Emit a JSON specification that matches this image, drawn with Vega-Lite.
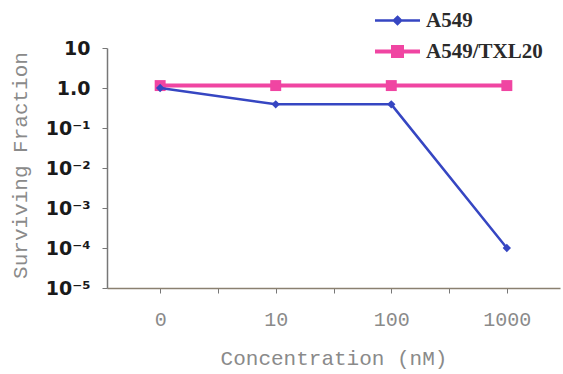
{
  "$schema": "https://vega.github.io/schema/vega-lite/v6.json",
  "width": 453,
  "height": 240,
  "autosize": "none",
  "padding": {"left": 107, "top": 48, "right": 3, "bottom": 86},
  "background": "white",
  "config": {"view": {"stroke": null}},
  "data": {
    "values": [
      {"line": "A549", "conc": "0", "fraction": 1.0},
      {"line": "A549", "conc": "10", "fraction": 0.39},
      {"line": "A549", "conc": "100", "fraction": 0.39},
      {"line": "A549", "conc": "1000", "fraction": 0.0001},
      {"line": "A549/TXL20", "conc": "0", "fraction": 1.15},
      {"line": "A549/TXL20", "conc": "10", "fraction": 1.15},
      {"line": "A549/TXL20", "conc": "100", "fraction": 1.15},
      {"line": "A549/TXL20", "conc": "1000", "fraction": 1.15}
    ]
  },
  "encoding": {
    "x": {
      "field": "conc",
      "type": "ordinal",
      "scale": {"type": "point", "domain": ["0", " ", "10", "  ", "100", "   ", "1000"], "padding": 0.92},
      "axis": {
        "title": "Concentration (nM)",
        "titleFont": "Liberation Mono",
        "titleFontWeight": "normal",
        "titleFontSize": 21,
        "titleColor": "#8a8a8a",
        "titleY": 70,
        "titleBaseline": "middle",
        "labelFont": "Liberation Mono",
        "labelFontSize": 20,
        "labelColor": "#8a8a8a",
        "labelAngle": 0,
        "labelPadding": 16,
        "labelExpr": "trim(datum.label)",
        "tickSize": 5,
        "tickColor": "#777777",
        "domainColor": "#8a8070",
        "domainWidth": 1.5,
        "grid": false
      }
    },
    "y": {
      "field": "fraction",
      "type": "quantitative",
      "scale": {"type": "log", "domain": [0.00001, 10], "nice": false},
      "axis": {
        "title": "Surviving Fraction",
        "titleFont": "Liberation Mono",
        "titleFontWeight": "normal",
        "titleFontSize": 21,
        "titleColor": "#8a8a8a",
        "titleX": -87,
        "titleY": 117,
        "titleAlign": "center",
        "titleBaseline": "middle",
        "titleAngle": -90,
        "values": [0.00001, 0.0001, 0.001, 0.01, 0.1, 1, 10],
        "labelExpr": "datum.value > 5 ? '10' : datum.value > 0.5 ? '1.0' : '10' + '⁻' + ['', '¹', '²', '³', '⁴', '⁵'][round(-log(datum.value) / LN10)]",
        "labelFont": "DejaVu Sans",
        "labelFontWeight": "bold",
        "labelFontSize": 19,
        "labelColor": "#1a1a1a",
        "labelPadding": 12,
        "tickSize": 5,
        "tickColor": "#777777",
        "domainColor": "#777777",
        "domainWidth": 1.5,
        "grid": false
      }
    },
    "color": {
      "field": "line",
      "type": "nominal",
      "scale": {"domain": ["A549", "A549/TXL20"], "range": ["#3646c2", "#f045a2"]},
      "legend": {
        "orient": "none",
        "legendX": 280,
        "legendY": -38,
        "title": null,
        "labelFont": "Liberation Serif",
        "labelFontWeight": "bold",
        "labelFontSize": 21,
        "labelColor": "#2a2a2a",
        "labelOffset": 18,
        "symbolType": "M-1,0H1",
        "symbolSize": 2025,
        "symbolStrokeWidth": 3,
        "rowPadding": 8,
        "encode": {
          "symbols": {
            "update": {
              "shape": {"signal": "datum.value == 'A549' ? 'M-1,0H1M0,-0.16L0.16,0L0,0.16L-0.16,0Z' : 'M-1,0H1M-0.2,-0.2H0.2V0.2H-0.2Z'"},
              "fill": {"scale": "color", "field": "value"},
              "stroke": {"scale": "color", "field": "value"},
              "strokeWidth": {"signal": "datum.value == 'A549' ? 2.5 : 4"}
            }
          }
        }
      }
    }
  },
  "layer": [
    {
      "transform": [{"filter": "datum.line == 'A549/TXL20'"}],
      "mark": {"type": "line", "strokeWidth": 4}
    },
    {
      "transform": [{"filter": "datum.line == 'A549/TXL20'"}],
      "mark": {"type": "point", "shape": "square", "filled": true, "opacity": 1, "size": 120}
    },
    {
      "transform": [{"filter": "datum.line == 'A549'"}],
      "mark": {"type": "line", "strokeWidth": 2.5}
    },
    {
      "transform": [{"filter": "datum.line == 'A549'"}],
      "mark": {"type": "point", "shape": "diamond", "filled": true, "opacity": 1, "size": 70}
    }
  ]
}
